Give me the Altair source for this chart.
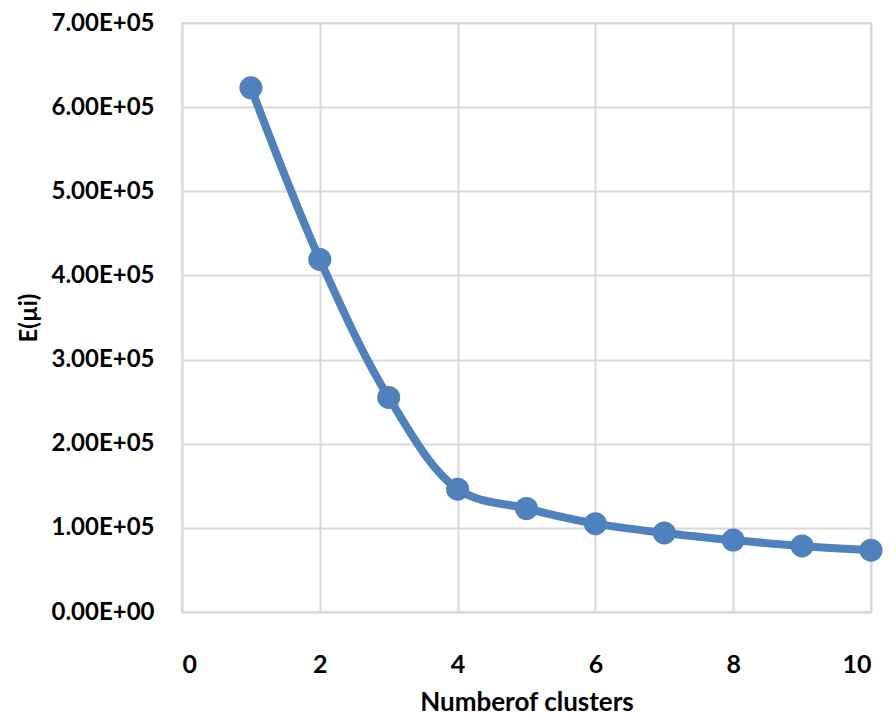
import altair as alt
import pandas as pd

clusters = [1, 2, 3, 4, 5, 6, 7, 8, 9, 10]
energy = [623000, 419000, 255000, 146000, 123000, 105000, 94000, 85500, 78500, 73500]

df = pd.DataFrame({"k": clusters, "E": energy})

FONT = "Lato, sans-serif"
BLUE = "#4F81BD"
GRID = "#D9D9D9"

x = alt.X(
    "k:Q",
    title="Numberof clusters",
    scale=alt.Scale(domain=[0, 10], nice=False, zero=True),
    axis=alt.Axis(
        values=[0, 2, 4, 6, 8, 10],
        format="d",
        ticks=False,
        tickSize=0,
        labelBaseline="alphabetic",
        labelPadding=60,
        labelFontSize=25,
        titleBaseline="alphabetic",
        titleY=98,
        domainColor=GRID,
        domainWidth=2,
        gridColor=GRID,
        gridWidth=2,
    ),
)
y = alt.Y(
    "E:Q",
    title="E(µi)",
    scale=alt.Scale(domain=[0, 700000], nice=False),
    axis=alt.Axis(
        values=[0, 100000, 200000, 300000, 400000, 500000, 600000, 700000],
        labelExpr="replace(replace(format(datum.value, '.2e'), 'e+', 'E+0'), 'e-', 'E-0')",
        ticks=False,
        tickSize=0,
        labelPadding=28,
        labelBaseline="middle",
        labelFontSize=24,
        titleBaseline="alphabetic",
        titleX=-146,
        titleFontSize=24,
        domainColor=GRID,
        domainWidth=2,
        gridColor=GRID,
        gridWidth=2,
    ),
)

line = alt.Chart(df).mark_line(
    color=BLUE, strokeWidth=8, interpolate="catmull-rom", clip=False
).encode(x=x, y=y)
pts = alt.Chart(df).mark_point(
    shape="circle", filled=True, color=BLUE, opacity=1, size=530, clip=False
).encode(x="k:Q", y="E:Q")

chart = (
    (line + pts)
    .properties(
        width=689,
        height=589,
        autosize=alt.AutoSizeParams(type="none"),
        padding={"left": 174, "top": 15, "right": 17, "bottom": 103},
        background="white",
    )
    .configure_view(stroke=GRID, strokeWidth=2)
    .configure_axis(
        labelFont=FONT,
        titleFont=FONT,
        labelFontWeight="bold",
        titleFontWeight="bold",
        titleFontSize=26,
        labelColor="#000000",
        titleColor="#000000",
    )
)

chart.save("out.html", embed_options={"renderer": "svg", "actions": False})
